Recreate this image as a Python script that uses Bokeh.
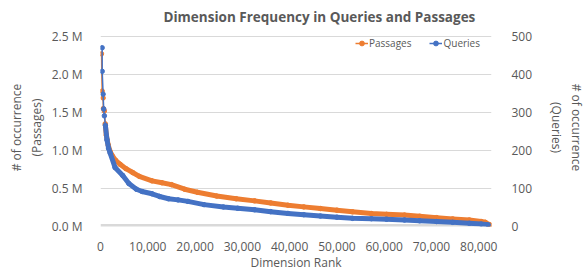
from bokeh.plotting import figure
from bokeh.models import (Range1d, LinearAxis, FixedTicker, NumeralTickFormatter,
                          PrintfTickFormatter, Span, Legend, LegendItem)
from bokeh.embed import file_html
from bokeh.resources import INLINE

# ---------------- data ----------------
title_text = "Dimension Frequency in Queries and Passages"
x_label = "Dimension Rank"
left_label = "# of occurrence\n(Passages)"
right_label = "# of occurrence\n(Queries)"
series_names = ["Passages", "Queries"]

passages_rank = [200, 350, 550, 600, 820, 1000, 1230, 1640, 2000, 2400, 3200, 4100,
                 5400, 6800, 8200, 10900, 13000, 15000, 17800, 20500, 24600, 28700,
                 32600, 36000, 39650, 43000, 46500, 50000, 53300, 57300, 60500, 64300,
                 67500, 71100, 74500, 78000, 80500, 81400, 82400]
passages_m = [2.27, 1.78, 1.69, 1.55, 1.52, 1.35, 1.20, 1.07, 0.99, 0.94, 0.87, 0.82,
              0.76, 0.71, 0.66, 0.60, 0.575, 0.55, 0.49, 0.45, 0.40, 0.365,
              0.337, 0.31, 0.28, 0.258, 0.236, 0.215, 0.193, 0.17, 0.16, 0.15,
              0.135, 0.116, 0.10, 0.086, 0.066, 0.055, 0.02]

queries_rank = [350, 360, 550, 680, 820, 1030, 1370, 1700, 2050, 3080, 4700, 6000,
                7600, 8800, 10900, 12500, 14400, 16400, 18500, 21900, 26000, 29000,
                32600, 36000, 39650, 43000, 46500, 50000, 53300, 57300, 60500, 64300,
                67500, 71100, 74500, 78000, 80500, 82000]
queries_count = [470, 408, 348, 309, 291, 266, 228, 206, 193, 155, 134, 113,
                 98, 92, 86, 79, 73, 70, 66, 57.5, 51.5, 48,
                 44, 39, 34.4, 31, 27.5, 24.5, 21.5, 20.5, 19, 17,
                 15, 13, 11, 8.5, 6.5, 4.4]

x_ticks = [0, 10000, 20000, 30000, 40000, 50000, 60000, 70000, 80000]
left_ticks = [0, 0.5, 1.0, 1.5, 2.0, 2.5]
right_ticks = [0, 100, 200, 300, 400, 500]

# ---------------- styling ----------------
W, H = 587, 273
X_MAX = 82700
ORANGE = "#ED7D31"
BLUE = "#4472C4"
TEXT = "#595959"
GRID = "#D9D9D9"
FONT = "Open Sans"

# frame edges in pixels; the 2.5 M gridline sits at GRID_TOP, frame top a bit higher
FL, FR, FT, FB = 100, 504, 28, 230
GRID_TOP = 36
stretch = (FB - FT) / (FB - GRID_TOP)

p = figure(width=W, height=H, output_backend="svg", toolbar_location=None,
           x_range=Range1d(0, X_MAX),
           y_range=Range1d(0, left_ticks[-1] * stretch),
           min_border_left=FL, min_border_right=W - FR,
           min_border_top=FT, min_border_bottom=H - FB)
p.outline_line_color = None
p.background_fill_color = "white"
p.border_fill_color = "white"
p.extra_y_ranges = {"q": Range1d(0, right_ticks[-1] * stretch)}

p.title.text = title_text
p.title.align = "left"
p.title.offset = 63
p.title.text_font = FONT
p.title.text_font_size = "13.5px"
p.title.text_font_style = "bold"
p.title.text_color = TEXT
p.title.standoff = 6
p.title.vertical_align = "bottom"


def style_axis(ax, standoff, label_standoff):
    ax.axis_line_color = None
    ax.major_tick_line_color = None
    ax.minor_tick_line_color = None
    ax.major_label_text_font = FONT
    ax.major_label_text_font_size = "12px"
    ax.major_label_text_color = TEXT
    ax.major_label_standoff = standoff
    ax.axis_label_text_font = FONT
    ax.axis_label_text_font_size = "12px"
    ax.axis_label_text_font_style = "normal"
    ax.axis_label_text_color = TEXT
    ax.axis_label_standoff = label_standoff
    ax.axis_label_text_line_height = 1.15


xa = p.xaxis[0]
xa.ticker = FixedTicker(ticks=x_ticks)
xa.formatter = NumeralTickFormatter(format="0,0")
xa.axis_label = x_label
style_axis(xa, 9, 0)

ya = p.yaxis[0]
ya.ticker = FixedTicker(ticks=left_ticks)
ya.formatter = PrintfTickFormatter(format="%.1f M")
ya.axis_label = left_label
style_axis(ya, 12, 4)

ry = LinearAxis(y_range_name="q", ticker=FixedTicker(ticks=right_ticks),
                axis_label=right_label)
style_axis(ry, 14, 13)
p.add_layout(ry, "right")

p.xgrid.grid_line_color = None
p.ygrid.grid_line_color = GRID
p.ygrid.grid_line_width = 1
p.ygrid.ticker = FixedTicker(ticks=left_ticks)

p.add_layout(Span(location=0, dimension="width", line_color=GRID, line_width=5,
                  level="underlay"))

# series
HEAD = 1000
pi_cut = next(i for i, r in enumerate(passages_rank) if r >= HEAD)
qi_cut = next(i for i, r in enumerate(queries_rank) if r >= HEAD)

pl = p.line(passages_rank, passages_m, line_color=ORANGE, line_width=1.5)
p.line(passages_rank[pi_cut:], passages_m[pi_cut:], line_color=ORANGE, line_width=5,
       line_join="round")
ps = p.scatter(passages_rank, passages_m, size=4.5, marker="circle",
               fill_color=ORANGE, line_color=ORANGE)

ql = p.line(queries_rank, queries_count, line_color=BLUE, line_width=1.5, y_range_name="q")
p.line(queries_rank[qi_cut:], queries_count[qi_cut:], line_color=BLUE, line_width=5,
       line_join="round", y_range_name="q")
qs = p.scatter(queries_rank, queries_count, size=4.5, marker="circle",
               fill_color=BLUE, line_color=BLUE, y_range_name="q")

legend = Legend(items=[LegendItem(label=series_names[0], renderers=[pl, ps]),
                       LegendItem(label=series_names[1], renderers=[ql, qs])],
                orientation="horizontal", location=(255, 176),
                padding=0, margin=0, spacing=18, label_standoff=1,
                glyph_width=13, glyph_height=12, label_height=12,
                label_text_font=FONT, label_text_font_size="10px",
                label_text_color=TEXT, label_text_baseline="middle",
                background_fill_alpha=0, border_line_color=None)
p.add_layout(legend)

open("out.html", "w").write(file_html(p, INLINE))
